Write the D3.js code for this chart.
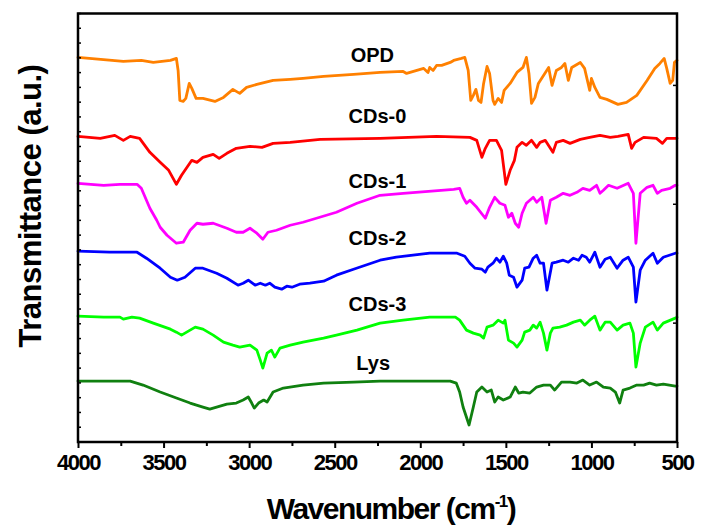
<!DOCTYPE html>
<html><head><meta charset="utf-8">
<script src="https://cdn.jsdelivr.net/npm/d3@7"></script>
<style>body{margin:0;background:#fff}svg{display:block}</style>
</head><body><div id="chart"></div>
<script>
// wavenumber (cm-1), transmittance (a.u., offset traces)
const OPD = [[4000,385],[3735,381],[3630,382],[3560,380],[3510,381],[3460,382],[3425,384],[3415,372],[3405,342],[3385,341],[3370,344],[3350,359],[3335,354],[3310,344],[3270,344],[3200,341],[3150,345],[3095,353],[3055,349],[3015,355],[2955,358],[2860,362],[2760,363],[2685,364],[2565,366],[2390,368],[2235,370],[2100,371],[2080,369],[1980,374],[1955,370],[1945,375],[1925,372],[1905,377],[1875,377],[1825,380],[1805,382],[1760,384],[1740,385],[1720,372],[1705,342],[1690,347],[1675,353],[1660,342],[1645,340],[1630,359],[1610,376],[1595,369],[1575,342],[1565,338],[1545,344],[1525,340],[1510,352],[1475,359],[1435,370],[1400,375],[1380,385],[1365,369],[1350,339],[1330,345],[1310,359],[1280,367],[1250,375],[1230,357],[1205,372],[1175,375],[1155,379],[1135,362],[1115,375],[1095,377],[1065,380],[1040,374],[1010,352],[1000,364],[980,355],[950,345],[910,343],[845,338],[795,340],[735,347],[675,362],[630,374],[600,379],[575,384],[560,374],[540,359],[525,362],[515,380],[500,382]];
const CDs0 = [[4000,306],[3870,304],[3785,307],[3735,302],[3695,306],[3640,304],[3580,290],[3520,280],[3470,272],[3425,258],[3395,267],[3335,282],[3305,280],[3270,285],[3210,288],[3175,284],[3130,289],[3075,294],[2995,296],[2925,295],[2860,299],[2760,300],[2585,303],[2235,304],[1905,306],[1710,305],[1670,302],[1640,285],[1620,294],[1595,302],[1555,302],[1525,292],[1500,258],[1475,272],[1450,282],[1435,295],[1405,300],[1380,297],[1350,302],[1320,295],[1300,300],[1270,302],[1225,290],[1205,300],[1165,302],[1125,299],[1065,303],[1010,305],[950,307],[890,305],[845,306],[785,308],[765,294],[745,300],[695,305],[620,304],[585,299],[560,304],[500,304]];
const CDs1 = [[4000,259],[3850,257],[3755,258],[3655,258],[3630,254],[3580,234],[3540,222],[3520,215],[3480,207],[3425,199],[3385,200],[3345,212],[3305,219],[3270,218],[3210,219],[3130,214],[3075,210],[3035,210],[2995,214],[2955,209],[2920,203],[2890,210],[2840,212],[2760,217],[2685,220],[2490,230],[2370,239],[2235,247],[2100,249],[1805,253],[1770,254],[1750,245],[1730,239],[1710,242],[1670,235],[1620,224],[1595,235],[1565,245],[1535,239],[1505,237],[1485,225],[1465,229],[1445,219],[1425,215],[1405,229],[1380,239],[1340,245],[1320,240],[1290,245],[1265,219],[1240,242],[1205,245],[1165,249],[1125,247],[1085,250],[1050,254],[1010,252],[970,257],[950,249],[930,252],[900,257],[850,254],[785,259],[755,249],[740,199],[715,249],[675,255],[640,257],[615,249],[590,252],[540,254],[510,257],[500,257]];
const CDs2 = [[4000,191],[3815,190],[3655,190],[3600,184],[3520,174],[3460,165],[3420,162],[3375,165],[3315,174],[3270,174],[3190,169],[3130,164],[3065,157],[3035,159],[3005,162],[2965,157],[2935,159],[2905,157],[2880,159],[2850,155],[2810,153],[2780,156],[2750,155],[2705,158],[2645,159],[2565,161],[2490,167],[2390,173],[2235,182],[2140,185],[1945,189],[1785,189],[1740,186],[1710,179],[1680,174],[1640,173],[1620,170],[1605,175],[1575,179],[1555,184],[1535,180],[1515,186],[1495,179],[1480,167],[1455,165],[1435,155],[1405,162],[1390,174],[1365,175],[1340,184],[1320,187],[1300,179],[1280,179],[1260,152],[1230,179],[1205,180],[1165,182],[1135,180],[1105,184],[1075,182],[1055,187],[1030,185],[1010,180],[980,190],[950,175],[920,183],[890,185],[850,174],[815,182],[785,185],[755,175],[740,140],[715,172],[685,182],[640,189],[615,179],[580,185],[510,189],[500,189]];
const CDs3 = [[4000,126],[3850,125],[3755,125],[3735,123],[3685,125],[3640,124],[3560,119],[3460,113],[3425,110],[3395,107],[3365,110],[3315,115],[3270,113],[3210,107],[3150,100],[3095,97],[3055,95],[2995,97],[2955,92],[2935,82],[2920,74],[2895,89],[2870,92],[2850,85],[2820,94],[2760,97],[2685,100],[2565,104],[2490,107],[2370,112],[2235,119],[2100,122],[1945,125],[1795,125],[1770,122],[1730,112],[1690,109],[1650,107],[1630,104],[1610,115],[1575,117],[1545,122],[1515,119],[1505,122],[1485,102],[1455,99],[1435,95],[1405,102],[1390,110],[1360,112],[1340,117],[1320,114],[1300,120],[1280,109],[1260,92],[1240,109],[1225,114],[1185,115],[1145,117],[1105,120],[1065,122],[1040,117],[1010,122],[980,126],[950,112],[920,120],[890,120],[850,112],[815,117],[775,119],[755,109],[740,75],[715,99],[685,115],[640,120],[615,112],[580,119],[510,124],[500,125]];
const Lys = [[4000,61],[3695,61],[3620,57],[3520,50],[3425,44],[3345,39],[3270,35],[3230,33],[3190,35],[3130,38],[3075,39],[3035,42],[3005,45],[2985,39],[2970,34],[2945,39],[2915,42],[2895,40],[2860,50],[2800,54],[2685,57],[2565,59],[2390,60],[2235,61],[1825,61],[1790,59],[1770,50],[1750,35],[1715,17],[1690,35],[1670,50],[1640,55],[1610,50],[1585,52],[1565,40],[1545,45],[1515,42],[1475,45],[1445,55],[1425,49],[1400,50],[1360,49],[1320,55],[1280,57],[1240,57],[1215,52],[1175,60],[1125,60],[1085,59],[1050,62],[1010,57],[970,60],[930,55],[890,54],[860,50],[835,39],[815,52],[775,54],[735,57],[695,57],[660,59],[620,57],[580,58],[510,56],[500,56]];

const seriesNames = ["OPD","CDs-0","CDs-1","CDs-2","CDs-3","Lys"];
const seriesData = [OPD, CDs0, CDs1, CDs2, CDs3, Lys];
const seriesColors = ["#ff8000","#ff0000","#ff00ff","#0000ff","#00ff00","#108010"];
// label anchor: [wavenumber, a.u.]
const labelPos = [[2280,380],[2250,319],[2250,254],[2250,197],[2250,131],[2275,72]];
const xTicks = [4000,3500,3000,2500,2000,1500,1000,500];
const xMinorTicks = [3750,3250,2750,2250,1750,1250,750];
const rightTicks = [119,238,357];

const W = 704, H = 529;
const m = {left:78, right:27, top:13.5, bottom:87};
const svg = d3.select("#chart").append("svg").attr("width",W).attr("height",H)
  .style("font-family","'Liberation Sans', Arial, sans-serif");

const x = d3.scaleLinear().domain([4000,500]).range([m.left, W-m.right]);
const y = d3.scaleLinear().domain([0,429]).range([H-m.bottom, m.top]);

// series
const line = d3.line().x(d=>x(d[0])).y(d=>y(d[1]));
const g = svg.append("g");
seriesData.forEach((s,i)=>{
  g.append("path").datum(s).attr("d",line).attr("fill","none")
    .attr("stroke",seriesColors[i]).attr("stroke-width",2.8)
    .attr("stroke-linejoin","round").attr("stroke-linecap","round");
});

// labels
seriesNames.forEach((n,i)=>{
  svg.append("text").attr("x",x(labelPos[i][0])).attr("y",y(labelPos[i][1]))
    .attr("text-anchor","middle").attr("font-size",20).attr("font-weight","bold")
    .text(n);
});

// bottom axis
const xAxis = d3.axisBottom(x).tickValues(xTicks).tickSize(6).tickPadding(6).tickFormat(d3.format("d"));
const ax = svg.append("g").attr("transform",`translate(0,${H-m.bottom})`).call(xAxis);
ax.select(".domain").remove();
ax.selectAll(".tick line").attr("stroke","#000").attr("stroke-width",2);
ax.selectAll(".tick text").attr("font-size",22).attr("font-weight","bold")
  .attr("font-family","'Liberation Sans', Arial, sans-serif").attr("letter-spacing",-1.5);
const axm = svg.append("g").attr("transform",`translate(0,${H-m.bottom})`)
  .call(d3.axisBottom(x).tickValues(xMinorTicks).tickSize(4).tickFormat(""));
axm.select(".domain").remove();
axm.selectAll(".tick line").attr("stroke","#000").attr("stroke-width",2);

// left inner minor ticks
const yStep = 429/29;
const leftTicks = d3.range(0,30).map(k=>k*yStep);
svg.append("g").selectAll("line").data(leftTicks).join("line")
  .attr("x1",m.left).attr("x2",m.left+3).attr("y1",d=>y(d)).attr("y2",d=>y(d))
  .attr("stroke","#000").attr("stroke-width",1.5);
// right inner ticks
svg.append("g").selectAll("line").data(rightTicks).join("line")
  .attr("x1",W-m.right).attr("x2",W-m.right-4).attr("y1",d=>y(d)).attr("y2",d=>y(d))
  .attr("stroke","#000").attr("stroke-width",1.5);

// frame
svg.append("rect").attr("x",m.left).attr("y",m.top)
  .attr("width",W-m.left-m.right).attr("height",H-m.top-m.bottom)
  .attr("fill","none").attr("stroke","#000").attr("stroke-width",2.5);

// axis titles
const xt = svg.append("text").attr("x",391).attr("y",519).attr("text-anchor","middle")
  .attr("font-size",30).attr("font-weight","bold").attr("letter-spacing",-1.5);
xt.append("tspan").text("Wavenumber (cm");
xt.append("tspan").attr("font-size",17).attr("dy",-12).text("-1");
xt.append("tspan").attr("dy",12).text(")");

svg.append("text").attr("transform","translate(41,206) rotate(-90)").attr("text-anchor","middle")
  .attr("font-size",31).attr("font-weight","bold").attr("letter-spacing",-0.5)
  .text("Transmittance (a.u.)");
</script></body></html>
